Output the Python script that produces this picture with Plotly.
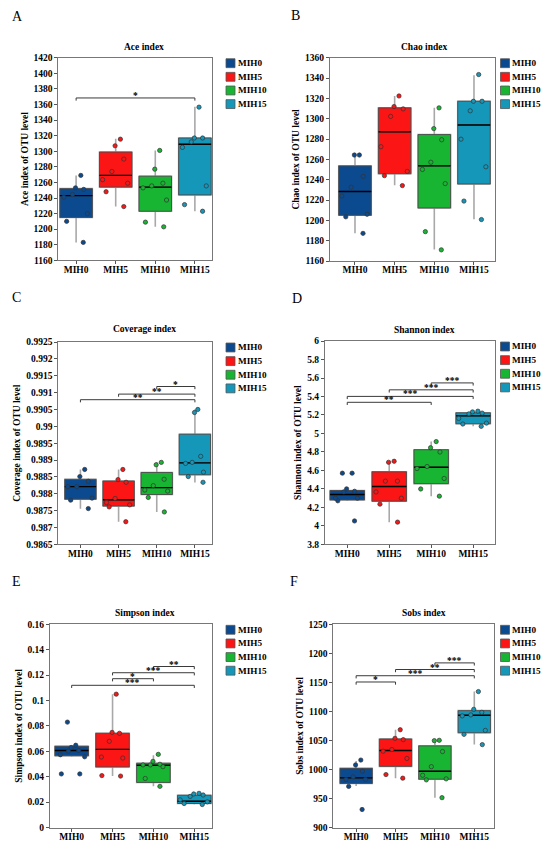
import plotly.graph_objects as go

# the page adds an 8 px body margin, so the figure is made 8 px smaller
# and every pixel position below is given in screenshot pixels minus OFF
OFF = 8
W, H = 550 - OFF, 850 - OFF

groups = ['MIH0', 'MIH5', 'MIH10', 'MIH15']
colors = ['#0b4a8f', '#fb1515', '#18b532', '#1597ba']

# ---- A: Ace index ----
ace_mih0 = [1269, 1251, 1253, 1241, 1244.5, 1220, 1210, 1183]
ace_mih5 = [1315.5, 1307, 1290, 1274, 1263.5, 1259, 1248, 1229]
ace_mih10 = [1277, 1301, 1259, 1255.5, 1253, 1237.4, 1209, 1203]
ace_mih15 = [1356.6, 1317, 1317, 1312, 1305, 1255.5, 1231.5, 1223]
ace_q1 = [1215, 1254, 1223, 1244]
ace_med = [1243, 1269, 1254, 1309]
ace_q3 = [1252, 1299, 1268, 1317]
ace_lo = [1183, 1229, 1203, 1223]
ace_hi = [1269, 1316, 1301, 1357]
ace_sig_pairs = [(0, 3)]
ace_sig_y = [1368.4]
ace_sig_text = ['*']

# ---- B: Chao index ----
chao_mih0 = [1264.3, 1264.3, 1243.3, 1232.6, 1224, 1206, 1203.5, 1187.2]
chao_mih5 = [1322.4, 1309.7, 1312, 1302.3, 1272.5, 1244, 1248.2, 1234.2]
chao_mih10 = [1310.7, 1290.3, 1279.3, 1257.2, 1250.1, 1236.2, 1188.9, 1171]
chao_mih15 = [1343.5, 1317.2, 1317.2, 1307.8, 1279.9, 1252.7, 1219, 1200.8]
chao_q1 = [1205, 1245.9, 1212.2, 1235.8]
chao_med = [1228.4, 1287.1, 1253.6, 1293.9]
chao_q3 = [1253.6, 1310.7, 1284.4, 1317.2]
chao_lo = [1187.2, 1234.5, 1171.3, 1201]
chao_hi = [1263.7, 1322.4, 1310.7, 1342.8]
chao_sig_pairs = []
chao_sig_y = []
chao_sig_text = []

# ---- C: Coverage index ----
cov_mih0 = [0.98872, 0.98851, 0.98821, 0.98821, 0.98837, 0.98787, 0.98781, 0.98756]
cov_mih5 = [0.98872, 0.98842, 0.98834, 0.98786, 0.98774, 0.98767, 0.98761, 0.98717]
cov_mih10 = [0.98886, 0.98893, 0.98843, 0.98824, 0.98811, 0.98808, 0.98789, 0.98746]
cov_mih15 = [0.99041, 0.9905, 0.98911, 0.98893, 0.9889, 0.98864, 0.98851, 0.98834]
cov_q1 = [0.98784, 0.987635, 0.987977, 0.988564]
cov_med = [0.98821, 0.98782, 0.988182, 0.988915]
cov_q3 = [0.988426, 0.988377, 0.988631, 0.989766]
cov_lo = [0.987556, 0.987166, 0.98746, 0.988337]
cov_hi = [0.988719, 0.988719, 0.988934, 0.990497]
cov_sig_pairs = [(2, 3), (1, 3), (0, 3)]
cov_sig_y = [0.991181, 0.990956, 0.99079]
cov_sig_text = ['*', '**', '**']

# ---- D: Shannon index ----
sha_mih0 = [4.57, 4.57, 4.40, 4.367, 4.374, 4.299, 4.271, 4.299, 4.053]
sha_mih5 = [4.688, 4.699, 4.484, 4.484, 4.367, 4.299, 4.235, 4.04]
sha_mih10 = [4.912, 4.845, 4.799, 4.642, 4.62, 4.513, 4.399, 4.321]
sha_mih15 = [5.212, 5.233, 5.241, 5.22, 5.163, 5.112, 5.102, 5.077]
sha_q1 = [4.281, 4.267, 4.457, 5.105]
sha_med = [4.339, 4.425, 4.634, 5.19]
sha_q3 = [4.382, 4.585, 4.824, 5.223]
sha_lo = [4.27, 4.04, 4.321, 5.077]
sha_hi = [4.40, 4.692, 4.912, 5.241]
sha_sig_pairs = [(2, 3), (1, 3), (0, 3), (0, 2)]
sha_sig_y = [5.547, 5.472, 5.401, 5.337]
sha_sig_text = ['***', '***', '***', '**']

# ---- E: Simpson index ----
sim_mih0 = [0.083, 0.0648, 0.0601, 0.0573, 0.063, 0.0607, 0.0557, 0.0422, 0.0422]
sim_mih5 = [0.105, 0.0749, 0.0742, 0.0679, 0.0555, 0.0547, 0.0405, 0.0409]
sim_mih10 = [0.0576, 0.0521, 0.0479, 0.0493, 0.0493, 0.0498, 0.0386, 0.0324]
sim_mih15 = [0.0269, 0.0264, 0.0256, 0.0245, 0.0218, 0.0202, 0.0189, 0.0181]
sim_q1 = [0.0565, 0.0477, 0.0355, 0.0189]
sim_med = [0.0607, 0.0615, 0.049, 0.0207]
sim_q3 = [0.064, 0.0742, 0.0506, 0.0254]
sim_lo = [0.0557, 0.0405, 0.0324, 0.0181]
sim_hi = [0.0648, 0.105, 0.057, 0.0269]
sim_sig_pairs = [(2, 3), (1, 3), (1, 2), (0, 3)]
sim_sig_y = [0.1268, 0.1219, 0.1172, 0.112]
sim_sig_text = ['**', '***', '*', '***']

# ---- F: Sobs index ----
sobs_mih0 = [1016.2, 1007.7, 996.9, 987.2, 982.7, 982.7, 970.8, 931]
sobs_mih5 = [1068.4, 1053.6, 1051.4, 1034.3, 1031.5, 1019, 991.2, 985]
sobs_mih10 = [1049.6, 1050.2, 1030.9, 990, 983.8, 982.1, 1004.8, 951.4]
sobs_mih15 = [1134.2, 1103.6, 1098.5, 1094, 1092.3, 1067.3, 1060.5, 1042.8]
sobs_q1 = [975.9, 1005.4, 983.3, 1063.3]
sobs_med = [985.5, 1032.6, 996.9, 1093.3]
sobs_q3 = [1001.9, 1052.5, 1040.6, 1101.3]
sobs_lo = [971.3, 985, 951.4, 1042.8]
sobs_hi = [1014.5, 1068.4, 1050.2, 1134.2]
sobs_sig_pairs = [(2, 3), (1, 3), (0, 3), (0, 1)]
sobs_sig_y = [1183.6, 1172.2, 1161.5, 1150.7]
sobs_sig_text = ['***', '**', '***', '*']

serif = 'Liberation Serif'
bold = dict(family=serif, size=9.5, color='black', weight='bold')
legend_font = dict(family=serif, size=9.2, color='black', weight='bold')


def fx(px):
    return (px - OFF) / W


def fy(py):
    return 1 - (py - OFF) / H


# panel frames in screenshot pixels: left, right, top, bottom
panels = [
    dict(letter='A', title='Ace index', ytitle='Ace index of OTU level',
         pts=[ace_mih0, ace_mih5, ace_mih10, ace_mih15],
         stats=(ace_q1, ace_med, ace_q3, ace_lo, ace_hi),
         sig=(ace_sig_pairs, ace_sig_y, ace_sig_text),
         px=(58.3, 212.3, 53.3, 258.3), xr=[-0.45, 3.44], yr=[1160, 1420], dt=20,
         lx=10, ly=12, tx=144, ty=42.3),
    dict(letter='B', title='Chao index', ytitle='Chao index of OTU level',
         pts=[chao_mih0, chao_mih5, chao_mih10, chao_mih15],
         stats=(chao_q1, chao_med, chao_q3, chao_lo, chao_hi),
         sig=(chao_sig_pairs, chao_sig_y, chao_sig_text),
         px=(330, 495, 53.3, 259), xr=[-0.63, 3.53], yr=[1160, 1360], dt=20,
         lx=288.5, ly=11, tx=424, ty=42.3),
    dict(letter='C', title='Coverage index', ytitle='Coverage index of OTU level',
         pts=[cov_mih0, cov_mih5, cov_mih10, cov_mih15],
         stats=(cov_q1, cov_med, cov_q3, cov_lo, cov_hi),
         sig=(cov_sig_pairs, cov_sig_y, cov_sig_text),
         px=(58.3, 211.7, 341, 545.7), xr=[-0.58, 3.44], yr=[0.9865, 0.9925], dt=0.0005,
         lx=9.5, ly=296, tx=144, ty=328.3),
    dict(letter='D', title='Shannon index', ytitle='Shannon index of OTU level',
         pts=[sha_mih0, sha_mih5, sha_mih10, sha_mih15],
         stats=(sha_q1, sha_med, sha_q3, sha_lo, sha_hi),
         sig=(sha_sig_pairs, sha_sig_y, sha_sig_text),
         px=(325, 495, 340, 545.7), xr=[-0.53, 3.52], yr=[3.8, 6], dt=0.2,
         lx=290, ly=296.7, tx=424, ty=328.7),
    dict(letter='E', title='Simpson index', ytitle='Simpson index of OTU level',
         pts=[sim_mih0, sim_mih5, sim_mih10, sim_mih15],
         stats=(sim_q1, sim_med, sim_q3, sim_lo, sim_hi),
         sig=(sim_sig_pairs, sim_sig_y, sim_sig_text),
         px=(50, 212.3, 626.7, 832.3), xr=[-0.53, 3.44], yr=[0, 0.16], dt=0.02,
         lx=9.5, ly=583.3, tx=144.5, ty=615.7),
    dict(letter='F', title='Sobs index', ytitle='Sobs index of OTU level',
         pts=[sobs_mih0, sobs_mih5, sobs_mih10, sobs_mih15],
         stats=(sobs_q1, sobs_med, sobs_q3, sobs_lo, sobs_hi),
         sig=(sobs_sig_pairs, sobs_sig_y, sobs_sig_text),
         px=(333.3, 494, 626.7, 832.3), xr=[-0.58, 3.5], yr=[900, 1250], dt=50,
         lx=288, ly=583.3, tx=424, ty=615.7),
]

fig = go.Figure()
layout = {}
shapes = []
annotations = []
bw = 0.82  # box width in category units

for k, p in enumerate(panels, start=1):
    xa = 'x' if k == 1 else 'x%d' % k
    ya = 'y' if k == 1 else 'y%d' % k
    q1, med, q3, lo, hi = p['stats']
    common = dict(xaxis=xa, yaxis=ya, showlegend=False, hoverinfo='skip', width=bw)

    # whiskers (light grey)
    for i in range(4):
        fig.add_trace(go.Box(x=[i], q1=[q1[i]], median=[med[i]], q3=[q3[i]],
                             lowerfence=[lo[i]], upperfence=[hi[i]], whiskerwidth=0,
                             fillcolor='rgba(0,0,0,0)', line=dict(color='#a8a8a8', width=1.6),
                             **common))
    # filled boxes with dark outline
    for i in range(4):
        fig.add_trace(go.Box(x=[i], q1=[q1[i]], median=[med[i]], q3=[q3[i]],
                             lowerfence=[q1[i]], upperfence=[q3[i]], whiskerwidth=0,
                             fillcolor=colors[i], line=dict(color='#4a4a4a', width=0.9),
                             **common))
    # black median lines
    for i in range(4):
        fig.add_trace(go.Box(x=[i], q1=[med[i]], median=[med[i]], q3=[med[i]],
                             lowerfence=[med[i]], upperfence=[med[i]], whiskerwidth=0,
                             fillcolor='rgba(0,0,0,0)', line=dict(color='black', width=1.4),
                             **common))
    # jittered sample points
    for i in range(4):
        vals = p['pts'][i]
        fig.add_trace(go.Box(x=[i] * len(vals), y=vals, boxpoints='all', jitter=1, pointpos=0,
                             fillcolor='rgba(0,0,0,0)', line=dict(color='rgba(0,0,0,0)', width=0),
                             marker=dict(color=colors[i], size=4.3, line=dict(color='#333333', width=0.7)),
                             **common))

    l, r, t, b = p['px']
    layout['xaxis' if k == 1 else 'xaxis%d' % k] = dict(
        domain=[fx(l), fx(r)], range=p['xr'], anchor=ya,
        tickvals=[0, 1, 2, 3], ticktext=groups, tickfont=bold,
        ticks='outside', ticklen=3, tickcolor='#555555', ticklabelstandoff=-3,
        showline=True, mirror=True, linecolor='#777777', linewidth=1,
        showgrid=False, zeroline=False)
    layout['yaxis' if k == 1 else 'yaxis%d' % k] = dict(
        domain=[fy(b), fy(t)], range=p['yr'], anchor=xa,
        tick0=p['yr'][0], dtick=p['dt'], tickfont=bold,
        ticks='outside', ticklen=3, tickcolor='#555555',
        showline=True, mirror=True, linecolor='#777777', linewidth=1,
        showgrid=False, zeroline=False,
        title=dict(text=p['ytitle'], font=bold, standoff=3))

    # significance brackets
    pairs, levels, labels = p['sig']
    tick = 2.7 / (b - t) * (p['yr'][1] - p['yr'][0])
    for (i, j), y, s in zip(pairs, levels, labels):
        shapes.append(dict(type='path', xref=xa, yref=ya,
                           path='M %s,%s L %s,%s L %s,%s L %s,%s' % (i, y - tick, i, y, j, y, j, y - tick),
                           line=dict(color='#3a3a3a', width=1)))
        annotations.append(dict(x=(i + j) / 2, y=y, xref=xa, yref=ya, text=s, showarrow=False,
                                font=bold, yanchor='middle', yshift=2))

    # panel letter and title
    annotations.append(dict(x=fx(p['lx']), y=fy(p['ly']), xref='paper', yref='paper',
                            text=p['letter'], showarrow=False, xanchor='left', yanchor='middle',
                            font=dict(family=serif, size=14, color='black')))
    annotations.append(dict(x=fx(p['tx']), y=fy(p['ty']), xref='paper', yref='paper',
                            text=p['title'], showarrow=False, xanchor='center', yanchor='middle',
                            font=bold))

    # legend squares
    sx = 226 if k % 2 == 1 else 500.5
    for i, g in enumerate(groups):
        cy = t + 5.5 + i * 13.8
        shapes.append(dict(type='rect', xref='paper', yref='paper',
                           x0=fx(sx), x1=fx(sx + 9), y0=fy(cy + 4.5), y1=fy(cy - 4.5),
                           fillcolor=colors[i], line=dict(color='#555555', width=0.8)))
        annotations.append(dict(x=fx(sx + 9.5), y=fy(cy), xref='paper', yref='paper',
                                text=g, showarrow=False, xanchor='left', yanchor='middle',
                                font=legend_font))

fig.update_layout(width=W, height=H, margin=dict(l=0, r=0, t=0, b=0),
                  plot_bgcolor='white', paper_bgcolor='white',
                  boxmode='overlay', shapes=shapes, annotations=annotations, **layout)

fig.write_html('out.html')
